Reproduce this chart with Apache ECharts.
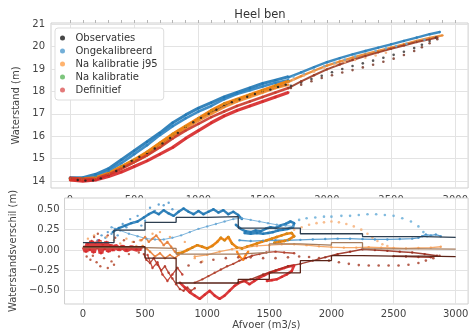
<!DOCTYPE html>
<html>
<head>
<meta charset="utf-8">
<script src="https://cdn.jsdelivr.net/npm/echarts@6/dist/echarts.min.js"></script>
<style>
  html, body { margin: 0; padding: 0; background: #fff; }
  #chart { width: 471px; height: 331px; }
</style>
</head>
<body>
<div id="chart"></div>
<script>
// ---- tick values ----
const qTicks = [0, 500, 1000, 1500, 2000, 2500, 3000];
const qMinorTicks = [0,100,200,300,400,500,600,700,800,900,1000,1100,1200,1300,1400,1500,1600,1700,1800,1900,2000,2100,2200,2300,2400,2500,2600,2700,2800,2900,3000];
const levelTicks = [14, 15, 16, 17, 18, 19, 20, 21];
const diffTicks = [-0.5, -0.25, 0, 0.25, 0.5];

// ---- water level vs discharge [Q, h] ----
const hObs = [[0,14.1],[60,14.05],[120,14.02],[180,14.03],[240,14.12],[300,14.28],[360,14.45],[420,14.65],[480,14.9],[540,15.08],[600,15.25],[660,15.45],[720,15.68],[780,15.92],[840,16.15],[900,16.4],[960,16.62],[1020,16.82],[1080,17.0],[1140,17.18],[1200,17.35],[1260,17.52],[1320,17.64],[1380,17.76],[1440,17.88],[1500,17.98],[1560,18.08],[1620,18.2],[1680,18.3]];
const hObsArc = [[1720,18.25],[1800,18.4],[1880,18.55],[1960,18.7],[2040,18.85],[2120,19.0],[2200,19.13],[2280,19.25],[2360,19.37],[2440,19.5],[2520,19.63],[2600,19.77],[2680,19.93],[2740,20.08],[2800,20.25],[2850,20.4]];

const hUncalUp = [[0,14.15],[100,14.15],[200,14.3],[300,14.55],[400,14.95],[500,15.35],[600,15.75],[700,16.15],[800,16.6],[900,16.95],[1000,17.25],[1100,17.5],[1200,17.75],[1300,17.95],[1400,18.15],[1500,18.35],[1600,18.5],[1700,18.65]];
const hUncalDown = [[1700,18.5],[1600,18.38],[1500,18.22],[1400,18.05],[1300,17.88],[1200,17.65],[1100,17.35],[1000,17.1],[900,16.8],[800,16.45],[700,16.05],[600,15.6],[500,15.2],[400,14.8],[300,14.45],[200,14.2],[100,14.1],[0,14.1]];
const hUncalHigh = [[1700,18.62],[1800,18.85],[1900,19.08],[2000,19.3],[2100,19.48],[2200,19.65],[2300,19.8],[2400,19.95],[2500,20.1],[2600,20.25],[2700,20.4],[2800,20.55],[2880,20.65]];
const hUncalArc = [[1740,18.65],[1820,18.8],[1900,18.97],[1980,19.12],[2060,19.27],[2140,19.42],[2220,19.56],[2300,19.69],[2380,19.81],[2460,19.92],[2540,20.02],[2620,20.12],[2700,20.22],[2760,20.3]];

const hJ95Up = [[0,14.1],[100,14.1],[200,14.15],[300,14.35],[400,14.65],[500,14.95],[600,15.3],[700,15.7],[800,16.1],[900,16.45],[1000,16.8],[1100,17.15],[1200,17.45],[1300,17.65],[1400,17.85],[1500,18.05],[1600,18.25],[1700,18.45]];
const hJ95Down = [[1700,18.3],[1600,18.15],[1500,17.95],[1400,17.75],[1300,17.55],[1200,17.3],[1100,17.0],[1000,16.7],[900,16.35],[800,15.95],[700,15.55],[600,15.15],[500,14.85],[400,14.55],[300,14.3],[200,14.1],[100,14.05],[0,14.05]];
const hJ95High = [[1700,18.42],[1800,18.68],[1900,18.92],[2000,19.15],[2100,19.33],[2200,19.5],[2300,19.66],[2400,19.8],[2500,19.95],[2600,20.1],[2700,20.25],[2800,20.38],[2900,20.5]];
const hJ95Arc = [[1740,18.52],[1820,18.7],[1900,18.88],[1980,19.04],[2060,19.18],[2140,19.3],[2220,19.4],[2300,19.5],[2380,19.6],[2460,19.72]];

const hDefUp = [[0,14.15],[100,14.1],[200,14.1],[300,14.3],[400,14.55],[500,14.85],[600,15.15],[700,15.5],[800,15.9],[900,16.25],[1000,16.55],[1100,16.85],[1200,17.1],[1300,17.35],[1400,17.55],[1500,17.75],[1600,17.95],[1700,18.15]];
const hDefDown = [[1700,17.95],[1600,17.75],[1500,17.55],[1400,17.35],[1300,17.15],[1200,16.9],[1100,16.6],[1000,16.25],[900,15.9],[800,15.5],[700,15.2],[600,14.9],[500,14.65],[400,14.4],[300,14.2],[200,14.05],[100,14.0],[0,14.05]];
const hDefHigh = [[1700,18.15],[1800,18.45],[1900,18.72],[2000,18.98],[2100,19.2],[2200,19.4],[2300,19.58],[2400,19.74],[2500,19.9],[2600,20.05],[2700,20.2],[2800,20.32],[2860,20.4]];
const hDefArc = [[1720,18.15],[1800,18.3],[1880,18.45],[1960,18.6],[2040,18.72],[2120,18.84],[2200,18.95],[2280,19.07],[2360,19.19],[2440,19.32],[2520,19.46],[2600,19.62],[2680,19.8],[2740,19.97],[2800,20.15],[2860,20.33]];

// ---- level difference vs discharge [Q, dh] ----
const dUncalSpread = [[120,0.12],[150,0.18],[180,0.15],[200,0.22],[230,0.2],[260,0.26],[280,0.18],[320,0.32],[350,0.28],[380,0.38],[410,0.34],[440,0.42],[470,0.3],[500,0.36],[540,0.52],[580,0.48],[610,0.56],[650,0.55],[690,0.58],[720,0.5]];
const dUncalUpper = [[240,0.22],[290,0.27],[340,0.3],[390,0.33],[440,0.35],[490,0.4],[530,0.44],[570,0.47],[610,0.44],[650,0.49],[690,0.45],[730,0.42],[770,0.47],[810,0.51],[850,0.47],[890,0.44],[930,0.48],[970,0.44],[1010,0.47],[1050,0.5],[1090,0.46],[1130,0.49],[1170,0.44],[1210,0.47],[1250,0.43],[1280,0.38]];
const dUncalLower = [[1230,0.31],[1270,0.26],[1310,0.23],[1350,0.22],[1390,0.24],[1430,0.23],[1470,0.26],[1510,0.28],[1550,0.27],[1590,0.3],[1630,0.32],[1670,0.35],[1700,0.33],[1690,0.28],[1650,0.26],[1610,0.25],[1570,0.24],[1530,0.22],[1490,0.21],[1450,0.2],[1400,0.21],[1350,0.2],[1300,0.21]];
const dUncalThin = [[230,0.28],[300,0.24],[370,0.2],[440,0.17],[510,0.14],[580,0.13],[650,0.13],[720,0.15],[790,0.18],[860,0.22],[930,0.26],[1000,0.29],[1070,0.32],[1140,0.35],[1210,0.38],[1280,0.39],[1350,0.37],[1420,0.35],[1490,0.33],[1560,0.31],[1630,0.3],[1690,0.29]];
const dUncalLong = [[1260,0.12],[1350,0.11],[1450,0.115],[1550,0.12],[1650,0.12],[1750,0.125],[1850,0.13],[1950,0.135],[2050,0.14],[2150,0.14],[2250,0.135],[2350,0.13],[2450,0.13],[2550,0.135],[2650,0.14],[2700,0.15],[2730,0.17],[2760,0.19],[2800,0.18],[2840,0.19],[2880,0.17]];
const dUncalArc = [[1740,0.37],[1800,0.39],[1870,0.4],[1940,0.41],[2000,0.41],[2080,0.42],[2150,0.42],[2220,0.43],[2290,0.44],[2360,0.44],[2430,0.43],[2500,0.42],[2570,0.39],[2640,0.35],[2700,0.29],[2740,0.22],[2770,0.17]];

const dJ95Spread = [[40,0.14],[90,0.18],[140,0.1],[190,0.16],[250,0.12],[300,0.08],[350,0.14],[400,0.1],[430,0.05],[460,0.12],[560,0.2],[620,0.22],[700,0.16],[820,0.1],[900,-0.1],[960,-0.14]];
const dJ95Cloud = [[470,0.12],[500,0.16],[530,0.1],[560,0.14],[590,0.18],[620,0.12],[650,0.06],[680,0.1],[710,0.04],[740,-0.02],[770,-0.06],[740,-0.1],[700,-0.06],[660,-0.1],[620,-0.04],[580,-0.08],[540,-0.02],[510,0.02],[480,0.05]];
const dJ95Band = [[760,-0.04],[800,-0.03],[840,0.0],[880,0.03],[920,0.06],[960,0.04],[1000,0.02],[1040,0.05],[1080,0.1],[1110,0.15],[1140,0.12],[1170,0.16],[1200,0.08],[1240,0.03],[1280,0.02],[1320,0.04],[1360,0.06],[1400,0.08],[1440,0.1],[1480,0.12],[1520,0.14],[1560,0.16],[1600,0.18],[1640,0.2],[1680,0.21],[1700,0.17],[1660,0.13],[1620,0.11],[1580,0.1],[1540,0.09]];
const dJ95Dip = [[1240,-0.02],[1260,-0.08],[1290,-0.12],[1310,-0.06],[1330,-0.02]];
const dJ95Long = [[900,-0.08],[1000,-0.06],[1100,-0.02],[1200,0.01],[1300,0.03],[1400,0.05],[1500,0.06],[1600,0.07],[1700,0.07],[1800,0.06],[1900,0.045],[2000,0.035],[2100,0.03],[2200,0.03],[2300,0.035],[2400,0.03],[2500,0.025],[2600,0.02],[2700,0.025],[2800,0.03],[2880,0.04]];
const dJ95Arc = [[1700,0.25],[1760,0.28],[1820,0.31],[1880,0.33],[1940,0.34],[2000,0.35],[2060,0.34],[2120,0.32],[2180,0.29],[2240,0.25],[2290,0.2],[2330,0.15],[2370,0.11],[2410,0.07],[2450,0.05]];

const dDefBlob = [[10,0.04],[25,-0.02],[40,0.08],[55,0.0],[70,0.11],[85,-0.03],[100,0.09],[115,0.02],[130,0.12],[145,-0.04],[160,0.07],[175,0.01],[190,0.1],[205,-0.02],[220,0.06],[240,0.0],[260,0.05],[290,0.01],[320,0.04],[350,0.0],[390,0.03],[430,0.01],[470,0.02]];
const dDefSpread = [[30,-0.08],[60,-0.12],[90,0.16],[110,-0.15],[140,-0.2],[170,-0.1],[200,-0.22],[230,-0.14],[260,0.15],[290,-0.08],[330,0.12],[370,-0.05],[410,0.1],[450,-0.03],[120,0.2],[200,0.18],[80,-0.07],[250,-0.18]];
const dDefLoopA = [[490,-0.05],[510,-0.12],[540,-0.16],[570,-0.1],[600,-0.18],[630,-0.25],[660,-0.2],[690,-0.28],[720,-0.35],[750,-0.42],[780,-0.48],[810,-0.5],[840,-0.46],[870,-0.5],[900,-0.47]];
const dDefLoopB = [[520,-0.06],[560,-0.22],[600,-0.15],[640,-0.3],[680,-0.38],[720,-0.3],[760,-0.22],[800,-0.3]];
const dDefBand = [[780,-0.4],[820,-0.46],[860,-0.52],[900,-0.56],[940,-0.6],[980,-0.55],[1020,-0.5],[1060,-0.56],[1100,-0.6],[1140,-0.56],[1180,-0.5],[1220,-0.44],[1260,-0.4],[1300,-0.38],[1340,-0.42],[1380,-0.38],[1420,-0.34],[1460,-0.31],[1500,-0.28],[1540,-0.26],[1580,-0.24],[1620,-0.22],[1660,-0.2],[1700,-0.19],[1680,-0.26],[1640,-0.3],[1600,-0.33],[1560,-0.36],[1520,-0.37],[1480,-0.38]];
const dDefUpper = [[900,-0.4],[960,-0.36],[1010,-0.32],[1060,-0.28],[1110,-0.24],[1160,-0.2],[1210,-0.17],[1260,-0.13],[1310,-0.1],[1360,-0.07],[1420,-0.05],[1476,-0.03],[1550,-0.02],[1620,-0.03],[1700,-0.04]];
const dDefRise = [[1250,-0.4],[1350,-0.36],[1450,-0.3],[1550,-0.25],[1650,-0.2],[1750,-0.17],[1850,-0.13],[1950,-0.09],[2050,-0.05],[2150,-0.02],[2250,0.01],[2350,0.0],[2450,-0.01],[2550,-0.02],[2650,-0.03],[2750,-0.05],[2850,-0.07],[2800,-0.09],[2700,-0.085],[2600,-0.08],[2500,-0.075]];
const dDefArc = [[760,-0.22],[850,-0.19],[950,-0.15],[1050,-0.12],[1150,-0.1],[1250,-0.09],[1350,-0.09],[1450,-0.1],[1550,-0.1],[1650,-0.09],[1740,-0.08],[1820,-0.085],[1900,-0.1],[1980,-0.13],[2060,-0.15],[2140,-0.17],[2220,-0.185],[2300,-0.19],[2380,-0.19],[2460,-0.19],[2540,-0.19],[2620,-0.18],[2700,-0.16],[2760,-0.13],[2820,-0.1],[2870,-0.07]];

// ---- binned mean difference per discharge class ----
const binEdges = [0, 250, 500, 750, 1000, 1250, 1500, 1750, 2000, 2250, 2500, 2750, 3000];
const binUncal = [0.09, 0.245, 0.34, 0.40, 0.41, 0.27, 0.27, 0.20, 0.20, 0.165, 0.165, 0.155, 0.155];
const binJ95 = [0.03, 0.03, 0.02, -0.05, -0.05, -0.03, 0.075, 0.06, 0.09, 0.015, 0.015, 0.012, 0.012];
const binDef = [0.04, 0.04, -0.10, -0.405, -0.405, -0.36, -0.28, -0.13, -0.07, -0.075, -0.075, -0.08, -0.08];

// ---- names and colours ----
const NAMES = ['Observaties', 'Ongekalibreerd', 'Na kalibratie j95', 'Na kalibratie', 'Definitief'];
const LEGEND_COLORS = ['#333333', '#64a6d4', '#ffab5e', '#6fbf6f', '#e06a6a'];

const FONT = 'DejaVu Sans';
const TXT = '#444';
const X0 = -148, X1 = 3100;

// panel boxes (pixels)
const TOP_PANEL = { left: 51, top: 23, width: 418, height: 165 };
const LOW_PANEL = { left: 51, top: 198, width: 418, height: 106 };

function trace(name, data, color, axis, width, opacity) {
  return {
    type: 'line', name, data,
    xAxisIndex: axis, yAxisIndex: axis,
    symbol: 'circle', symbolSize: 2.4, showSymbol: true,
    lineStyle: { color, width, opacity: opacity ?? 0.9 },
    itemStyle: { color, opacity: opacity ?? 0.9 },
    z: axis === 1 ? 12 : 2,
    silent: true, animation: false, emphasis: { disabled: true }
  };
}
function dots(name, data, color, axis, size) {
  return {
    type: 'scatter', name, data,
    xAxisIndex: axis, yAxisIndex: axis,
    symbol: 'circle', symbolSize: size ?? 2.6,
    itemStyle: { color, opacity: 0.85 },
    z: axis === 1 ? 12 : 2,
    silent: true, animation: false, emphasis: { disabled: true }
  };
}
function steps(name, values, color) {
  return {
    type: 'line', name, step: 'end',
    data: binEdges.map((q, i) => [q, values[i]]),
    xAxisIndex: 1, yAxisIndex: 1, showSymbol: false,
    lineStyle: { color, width: 1.3 },
    itemStyle: { color },
    z: 14, silent: true, animation: false, emphasis: { disabled: true }
  };
}

const series = [
  // water level
  trace(NAMES[0], hObs, '#222222', 0, 1.6),
  dots(NAMES[0], hObsArc, '#3a3a3a', 0),
  trace(NAMES[1], hUncalUp, '#1f77b4', 0, 3.0),
  trace(NAMES[1], hUncalDown, '#2b82c0', 0, 2.6),
  trace(NAMES[1], hUncalHigh, '#2a7fba', 0, 2.4),
  dots(NAMES[1], hUncalArc, '#6aaed8', 0),
  trace(NAMES[3], hJ95Up, '#2ca02c', 0, 2.0),
  trace(NAMES[2], hJ95Up, '#ff7f0e', 0, 3.0),
  trace(NAMES[2], hJ95Down, '#f08a2a', 0, 2.6),
  trace(NAMES[2], hJ95High, '#e8862e', 0, 2.4),
  dots(NAMES[2], hJ95Arc, '#f7b27a', 0),
  trace(NAMES[4], hDefUp, '#c9382a', 0, 2.6),
  trace(NAMES[4], hDefDown, '#d62728', 0, 3.2),
  trace(NAMES[4], hDefHigh, '#9a3a24', 0, 2.0),
  dots(NAMES[4], hDefArc, '#7a3a2a', 0),

  // level difference
  dots(NAMES[1], dUncalSpread, '#4f97cc', 1, 2.4),
  trace(NAMES[1], dUncalUpper, '#1f77b4', 1, 2.4),
  trace(NAMES[1], dUncalLower, '#1f77b4', 1, 2.6),
  trace(NAMES[1], dUncalThin, '#5fa3d3', 1, 1.0, 0.8),
  trace(NAMES[1], dUncalLong, '#4d96cb', 1, 1.3),
  dots(NAMES[1], dUncalArc, '#6aaed8', 1),
  trace(NAMES[3], dJ95Band, '#2ca02c', 1, 1.5),
  dots(NAMES[2], dJ95Spread, '#f4a261', 1, 2.4),
  trace(NAMES[2], dJ95Cloud, '#e8803a', 1, 1.6),
  trace(NAMES[2], dJ95Band, '#ff7f0e', 1, 2.6),
  trace(NAMES[2], dJ95Dip, '#ff7f0e', 1, 2.2),
  trace(NAMES[2], dJ95Long, '#f5a05a', 1, 1.3),
  dots(NAMES[2], dJ95Arc, '#f7b27a', 1),
  dots(NAMES[4], dDefSpread, '#b5482d', 1, 2.4),
  trace(NAMES[4], dDefBlob, '#d62728', 1, 5.0),
  trace(NAMES[4], dDefLoopA, '#b3382a', 1, 1.3),
  trace(NAMES[4], dDefLoopB, '#c0392b', 1, 1.3),
  trace(NAMES[4], dDefBand, '#d62728', 1, 2.6),
  trace(NAMES[4], dDefUpper, '#b0402c', 1, 1.4),
  trace(NAMES[4], dDefRise, '#9a2f20', 1, 1.5),
  dots(NAMES[4], dDefArc, '#a8432f', 1),
  steps(NAMES[1], binUncal, '#2c3e50'),
  steps(NAMES[2], binJ95, '#a47c5e'),
  steps(NAMES[4], binDef, '#5a2318')
];

const axisLbl = { color: TXT, fontFamily: FONT, fontSize: 10 };
const gridLine = { show: true, lineStyle: { color: '#e3e3e3', width: 1 } };
const plainNumber = v => String(v);

const option = {
  backgroundColor: '#ffffff',
  animation: false,
  title: {
    text: 'Heel ben', left: 260, top: 9, textAlign: 'center', padding: 0,
    textStyle: { color: '#333', fontFamily: FONT, fontSize: 11.5, fontWeight: 'normal' }
  },
  legend: {
    orient: 'vertical', left: 55, top: 28,
    padding: [4, 6, 4, 5], itemGap: 1,
    itemWidth: 16, itemHeight: 5, icon: 'circle',
    backgroundColor: '#ffffff', borderColor: '#dddddd', borderWidth: 1, borderRadius: 3,
    textStyle: { color: '#333', fontFamily: FONT, fontSize: 10, lineHeight: 12 },
    data: NAMES.map((n, i) => ({ name: n, itemStyle: { color: LEGEND_COLORS[i] } })),
    selectedMode: false, z: 20
  },
  // opaque backing for the lower panel: it hides the lower half of the
  // upper panel's tick labels, which run into it
  graphic: [{
    type: 'rect', left: LOW_PANEL.left, top: LOW_PANEL.top, z: 3, silent: true,
    shape: { width: LOW_PANEL.width, height: LOW_PANEL.height },
    style: { fill: '#ffffff' }
  }],
  grid: [
    Object.assign({ show: true, borderColor: '#cfcfcf', borderWidth: 1, backgroundColor: 'transparent', z: 0 }, TOP_PANEL),
    Object.assign({ show: true, borderColor: '#cfcfcf', borderWidth: 1, backgroundColor: 'transparent', z: 4 }, LOW_PANEL)
  ],
  xAxis: [
    {
      type: 'value', gridIndex: 0, min: X0, max: X1, position: 'bottom', z: 0,
      axisLine: { show: false },
      axisTick: { show: false, customValues: qTicks },
      axisLabel: Object.assign({ customValues: qTicks, margin: 7, formatter: plainNumber }, axisLbl),
      splitLine: gridLine
    },
    {
      type: 'value', gridIndex: 1, min: X0, max: X1, position: 'bottom', z: 5,
      name: 'Afvoer (m3/s)', nameLocation: 'middle', nameGap: 16,
      nameTextStyle: { color: TXT, fontFamily: FONT, fontSize: 10 },
      axisLine: { show: false },
      axisTick: { show: false, customValues: qTicks },
      axisLabel: Object.assign({ customValues: qTicks, margin: 5, formatter: plainNumber }, axisLbl),
      splitLine: gridLine
    },
    {
      type: 'value', gridIndex: 0, min: X0, max: X1, position: 'top', z: 1,
      axisLine: { show: false },
      axisTick: { show: true, customValues: qMinorTicks, length: 3, lineStyle: { color: '#b5b5b5' } },
      axisLabel: { show: false },
      splitLine: { show: false }
    }
  ],
  yAxis: [
    {
      type: 'value', gridIndex: 0, min: 13.69, max: 21.05, z: 1,
      name: 'Waterstand (m)', nameLocation: 'middle', nameGap: 26,
      nameTextStyle: { color: TXT, fontFamily: FONT, fontSize: 10 },
      axisLine: { show: false },
      axisTick: { show: false, customValues: levelTicks },
      axisLabel: Object.assign({ customValues: levelTicks, margin: 6 }, axisLbl),
      splitLine: gridLine
    },
    {
      type: 'value', gridIndex: 1, min: -0.663, max: 0.639, z: 5,
      name: 'Waterstandsverschil (m)', nameLocation: 'middle', nameGap: 38,
      nameTextStyle: { color: TXT, fontFamily: FONT, fontSize: 10 },
      axisLine: { show: false },
      axisTick: { show: false, customValues: diffTicks },
      axisLabel: Object.assign({
        customValues: diffTicks, margin: 5,
        formatter: v => v.toFixed(2).replace('-', '\u2212')
      }, axisLbl),
      splitLine: gridLine
    }
  ],
  series
};

const chart = echarts.init(document.getElementById('chart'), null, { renderer: 'canvas' });
chart.setOption(option);
</script>
</body>
</html>
